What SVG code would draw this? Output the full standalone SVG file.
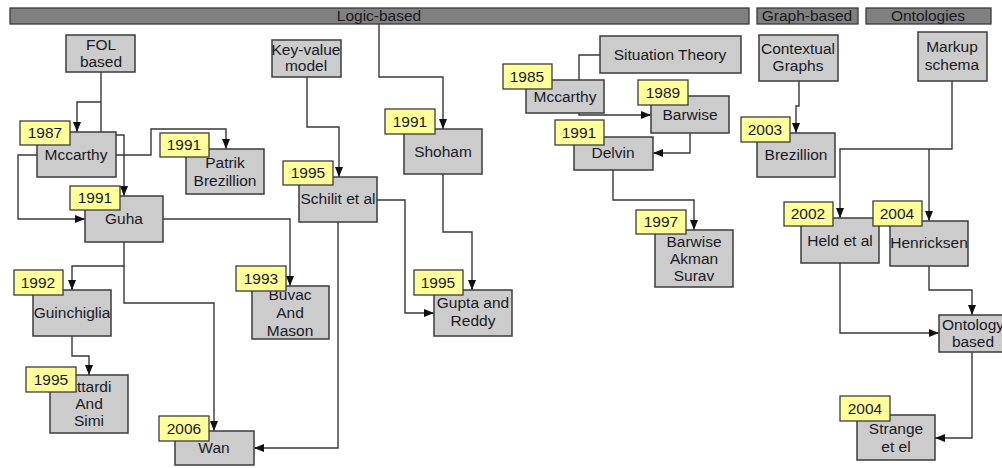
<svg xmlns="http://www.w3.org/2000/svg" width="1002" height="468" viewBox="0 0 1002 468">
  <style>
    .bar { fill: #808080; stroke: #3a3a3a; stroke-width: 1.3; }
    .box { fill: #cccccc; stroke: #3c3c3c; stroke-width: 1.5; }
    .year { fill: #ffff99; stroke: #3c3c3c; stroke-width: 1.3; }
    text { font-family: "Liberation Sans", Arial, sans-serif; font-size: 15.5px; fill: #1a1a26; text-anchor: middle; }
    .wire { fill: none; stroke: #383838; stroke-width: 1.4; }
    .arr { marker-end: url(#head); }
  </style>
  <defs>
    <marker id="head" markerUnits="userSpaceOnUse" markerWidth="10" markerHeight="10" refX="10" refY="5" orient="auto">
      <path d="M0,1 L10,5 L0,9 z" fill="#111"/>
    </marker>
  </defs>
  <rect width="1002" height="468" fill="#ffffff"/>

  <!-- category header bars -->
  <g id="bar-logic"><rect class="bar" x="10" y="8" width="739" height="16"/><text x="379" y="21">Logic-based</text></g>
  <g id="bar-graph"><rect class="bar" x="757" y="8" width="101" height="16"/><text x="807" y="21">Graph-based</text></g>
  <g id="bar-onto"><rect class="bar" x="866" y="8" width="125" height="16"/><text x="928" y="21">Ontologies</text></g>

  <!-- connectors -->
  <g id="connectors">
    <path class="wire" d="M101,72 V132"/>
    <path class="wire arr" d="M101,102 H77 V132"/>
    <path class="wire arr" d="M116,135 H124 V196"/>
    <path class="wire arr" d="M116,155 H151 V129 H226 V149"/>
    <path class="wire arr" d="M37,155 H18 V219 H85"/>
    <path class="wire arr" d="M163,219 H290 V286"/>
    <path class="wire arr" d="M124,242 V266 H72 V290"/>
    <path class="wire arr" d="M124,266 V303 H214 V431"/>
    <path class="wire arr" d="M72,336 V356 H89 V375"/>
    <path class="wire arr" d="M307,77 V127 H339 V177"/>
    <path class="wire arr" d="M377,200 H405 V313 H434"/>
    <path class="wire arr" d="M338,222 V448 H254"/>
    <path class="wire arr" d="M379,24 V77 H443 V129"/>
    <path class="wire arr" d="M443,174 V232 H472 V290"/>
    <path class="wire" d="M600,55 H579 V80"/>
    <path class="wire arr" d="M579,113 V115 H651"/>
    <path class="wire arr" d="M690,133 V153 H653"/>
    <path class="wire arr" d="M613,170 V200 H694 V230"/>
    <path class="wire arr" d="M799,81 V106 H796 V133"/>
    <path class="wire arr" d="M952,81 V149 H840 V218"/>
    <path class="wire arr" d="M929,149 V221"/>
    <path class="wire arr" d="M840,263 V333 H939"/>
    <path class="wire arr" d="M929,266 V290 H972 V315"/>
    <path class="wire arr" d="M972,352 V438 H935"/>
  </g>

  <!-- nodes -->
  <g id="fol-based"><rect class="box" x="66" y="35" width="69" height="37"/><text x="101" y="50">FOL</text><text x="101" y="67">based</text></g>
  <g id="mccarthy-1987"><rect class="box" x="37" y="132" width="79" height="45"/><text x="76" y="160">Mccarthy</text><rect class="year" x="20" y="121" width="50" height="24"/><text x="45" y="138">1987</text></g>
  <g id="patrik-brezillion"><rect class="box" x="186" y="149" width="78" height="45"/><text x="225" y="168">Patrik</text><text x="225" y="186">Brezillion</text><rect class="year" x="160" y="133" width="49" height="24"/><text x="184" y="150">1991</text></g>
  <g id="guha"><rect class="box" x="85" y="196" width="78" height="46"/><text x="124" y="224">Guha</text><rect class="year" x="70" y="186" width="50" height="24"/><text x="95" y="203">1991</text></g>
  <g id="key-value"><rect class="box" x="272" y="40" width="69" height="37"/><text x="306" y="55">Key-value</text><text x="306" y="71">model</text></g>
  <g id="schilit"><rect class="box" x="299" y="177" width="78" height="45"/><text x="338" y="204">Schilit et al</text><rect class="year" x="283" y="161" width="50" height="24"/><text x="308" y="178">1995</text></g>
  <g id="shoham"><rect class="box" x="404" y="129" width="78" height="45"/><text x="443" y="157">Shoham</text><rect class="year" x="385" y="109" width="50" height="25"/><text x="410" y="127">1991</text></g>
  <g id="gupta-reddy"><rect class="box" x="434" y="290" width="78" height="46"/><text x="473" y="308">Gupta and</text><text x="473" y="326">Reddy</text><rect class="year" x="414" y="270" width="49" height="25"/><text x="438" y="288">1995</text></g>
  <g id="buvac-mason"><rect class="box" x="252" y="286" width="77" height="53"/><text x="290" y="300">Buvac</text><text x="290" y="318">And</text><text x="290" y="336">Mason</text><rect class="year" x="236" y="266" width="50" height="25"/><text x="261" y="284">1993</text></g>
  <g id="guinchiglia"><rect class="box" x="33" y="290" width="78" height="46"/><text x="72" y="318">Guinchiglia</text><rect class="year" x="14" y="270" width="49" height="25"/><text x="38" y="288">1992</text></g>
  <g id="attardi-simi"><rect class="box" x="50" y="375" width="78" height="58"/><text x="89" y="392">Attardi</text><text x="89" y="409">And</text><text x="89" y="426">Simi</text><rect class="year" x="26" y="367" width="50" height="25"/><text x="51" y="385">1995</text></g>
  <g id="wan"><rect class="box" x="175" y="431" width="79" height="34"/><text x="214" y="453">Wan</text><rect class="year" x="159" y="416" width="50" height="25"/><text x="184" y="434">2006</text></g>
  <g id="situation-theory"><rect class="box" x="600" y="36" width="141" height="37"/><text x="670" y="60">Situation Theory</text></g>
  <g id="mccarthy-1985"><rect class="box" x="526" y="80" width="78" height="33"/><text x="565" y="102">Mccarthy</text><rect class="year" x="503" y="64" width="49" height="25"/><text x="527" y="82">1985</text></g>
  <g id="barwise"><rect class="box" x="651" y="96" width="78" height="37"/><text x="690" y="120">Barwise</text><rect class="year" x="638" y="80" width="50" height="25"/><text x="663" y="98">1989</text></g>
  <g id="delvin"><rect class="box" x="574" y="137" width="79" height="33"/><text x="613" y="158">Delvin</text><rect class="year" x="555" y="120" width="49" height="25"/><text x="579" y="138">1991</text></g>
  <g id="barwise-akman-surav"><rect class="box" x="655" y="230" width="78" height="57"/><text x="694" y="247">Barwise</text><text x="694" y="264">Akman</text><text x="694" y="281">Surav</text><rect class="year" x="636" y="210" width="50" height="24"/><text x="661" y="227">1997</text></g>
  <g id="contextual-graphs"><rect class="box" x="759" y="35" width="79" height="46"/><text x="798" y="54">Contextual</text><text x="798" y="71">Graphs</text></g>
  <g id="brezillion"><rect class="box" x="757" y="133" width="78" height="44"/><text x="796" y="160">Brezillion</text><rect class="year" x="741" y="117" width="49" height="25"/><text x="765" y="135">2003</text></g>
  <g id="markup-schema"><rect class="box" x="918" y="32" width="69" height="49"/><text x="952" y="52">Markup</text><text x="952" y="70">schema</text></g>
  <g id="held"><rect class="box" x="801" y="218" width="78" height="45"/><text x="840" y="246">Held et al</text><rect class="year" x="784" y="202" width="49" height="24"/><text x="808" y="219">2002</text></g>
  <g id="henricksen"><rect class="box" x="890" y="221" width="78" height="45"/><text x="929" y="248">Henricksen</text><rect class="year" x="873" y="201" width="49" height="25"/><text x="897" y="219">2004</text></g>
  <g id="ontology-based"><rect class="box" x="939" y="315" width="70" height="37"/><text x="973" y="330">Ontology</text><text x="973" y="347">based</text></g>
  <g id="strange"><rect class="box" x="857" y="415" width="78" height="45"/><text x="896" y="434">Strange</text><text x="896" y="452">et el</text><rect class="year" x="840" y="396" width="50" height="25"/><text x="865" y="414">2004</text></g>
</svg>
